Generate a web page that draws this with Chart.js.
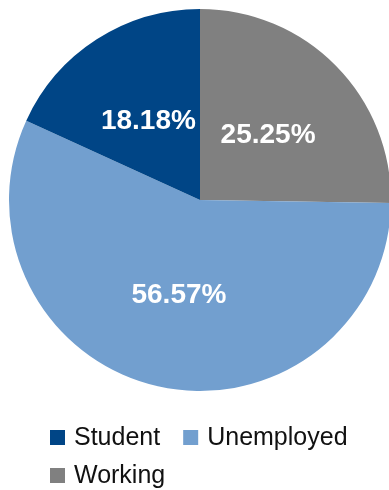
<!DOCTYPE html>
<html>
<head>
<meta charset="utf-8">
<script src="https://cdn.jsdelivr.net/npm/chart.js@4/dist/chart.umd.min.js"></script>
<style>
  html, body { margin: 0; padding: 0; background: #fff; overflow: hidden; }
  #wrap { width: 400px; height: 490px; }
</style>
</head>
<body>
<div id="wrap"><canvas id="c" width="400" height="490"></canvas></div>
<script>
// Survey of employment status (counts of respondents)
const categories = ['Student', 'Unemployed', 'Working'];
const counts = [18, 56, 25];
const colors = ['#004586', '#729fcf', '#808080'];

const FONT = "'Liberation Sans', Arial, sans-serif";

// Slices run counter-clockwise from the top in legend order, so the
// dataset is fed to Chart.js (which draws clockwise) in reverse.
const order = categories.map((_, i) => categories.length - 1 - i);

const total = counts.reduce((a, b) => a + b, 0);

const sliceLabels = {
  id: 'sliceLabels',
  afterDatasetsDraw(chart) {
    const ctx = chart.ctx;
    const meta = chart.getDatasetMeta(0);
    const data = chart.data.datasets[0].data;
    ctx.save();
    ctx.fillStyle = '#ffffff';
    ctx.font = 'bold 28px ' + FONT;
    ctx.textAlign = 'center';
    ctx.textBaseline = 'middle';
    meta.data.forEach((arc, i) => {
      const p = arc.getProps(['x', 'y', 'startAngle', 'endAngle', 'outerRadius'], true);
      const mid = (p.startAngle + p.endAngle) / 2;
      const r = p.outerRadius * 0.5;
      const x = p.x + Math.cos(mid) * r;
      const y = p.y + Math.sin(mid) * r;
      const pct = (data[i] / total * 100).toFixed(2) + '%';
      ctx.fillText(pct, x, y + 2);
    });
    ctx.restore();
  }
};

// Legend laid out left-aligned, wrapping onto a second row
const legendBelow = {
  id: 'legendBelow',
  afterDraw(chart) {
    const ctx = chart.ctx;
    ctx.save();
    ctx.font = '25px ' + FONT;
    ctx.textBaseline = 'middle';
    ctx.textAlign = 'left';
    const left = 50, maxRight = 375, box = 15, textGap = 24, itemGap = 23, rowH = 38;
    let x = left, y = 437.5;
    categories.forEach((name, i) => {
      const w = textGap + ctx.measureText(name).width;
      if (x > left && x + w > maxRight) { x = left; y += rowH; }
      ctx.fillStyle = colors[i];
      ctx.fillRect(x, y - box / 2, box, box);
      ctx.fillStyle = '#111111';
      ctx.fillText(name, x + textGap, y + 1);
      x += w + itemGap;
    });
    ctx.restore();
  }
};

new Chart(document.getElementById('c'), {
  type: 'pie',
  data: {
    labels: order.map(i => categories[i]),
    datasets: [{
      data: order.map(i => counts[i]),
      backgroundColor: order.map(i => colors[i]),
      borderWidth: 0,
      hoverOffset: 0
    }]
  },
  options: {
    responsive: false,
    animation: false,
    layout: { padding: { left: 9, right: 9, top: 9, bottom: 99 } },
    plugins: {
      legend: { display: false },
      tooltip: { enabled: false }
    }
  },
  plugins: [sliceLabels, legendBelow]
});
</script>
</body>
</html>
